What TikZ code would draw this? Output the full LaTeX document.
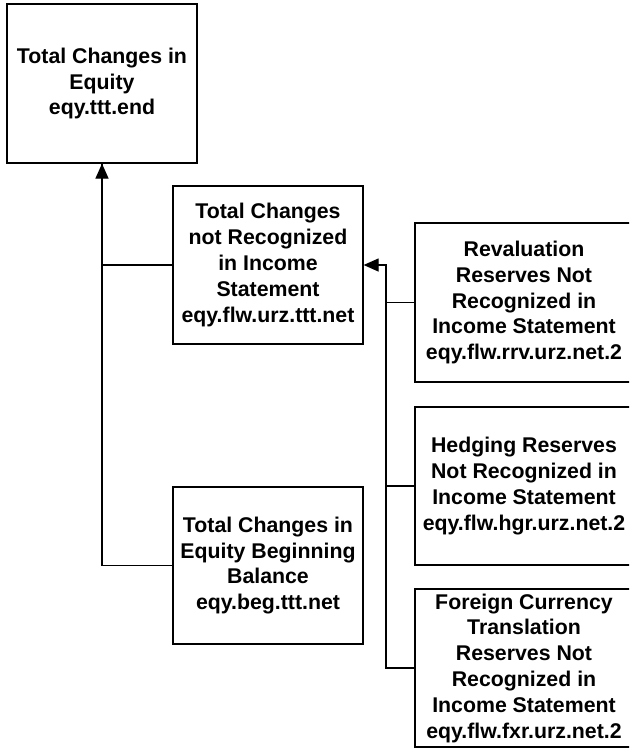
\documentclass[tikz,border=0pt]{standalone}
\usepackage{fontspec}
\setmainfont{Liberation Sans}
\usetikzlibrary{arrows.meta}
\begin{document}
\begin{tikzpicture}[x=1pt,y=-1pt,
  box/.style={draw=black, line width=1.2pt, fill=white, rectangle, inner sep=0pt,
    align=center, font=\bfseries\fontsize{21.3}{25.8}\selectfont},
  leftbox/.style={box, minimum width=190pt},
  rightbox/.style={box, minimum width=218pt},
  link/.style={draw=black, line width=1.2pt},
  arrowlink/.style={link, -{Triangle[length=15pt,width=13pt]}}]
  \useasboundingbox (0,0) rectangle (629,749);
  \clip (0,0) rectangle (629,749);

  % account boxes
  \node[leftbox, minimum height=159pt] (total) at (102,83.5)
    {Total Changes in\\Equity\\eqy.ttt.end};
  \node[leftbox, minimum height=158pt] (notrec) at (268,265)
    {Total Changes\\not Recognized\\in Income\\Statement\\eqy.flw.urz.ttt.net};
  \node[leftbox, minimum height=157pt] (begin) at (268,565.5)
    {Total Changes in\\Equity Beginning\\Balance\\eqy.beg.ttt.net};
  \node[rightbox, minimum height=159pt] (reval) at (524,302.5)
    {Revaluation\\Reserves Not\\Recognized in\\Income Statement\\eqy.flw.rrv.urz.net.2};
  \node[rightbox, minimum height=158pt] (hedge) at (524,486)
    {Hedging Reserves\\Not Recognized in\\Income Statement\\eqy.flw.hgr.urz.net.2};
  \node[rightbox, minimum height=158pt] (fx) at (524,668)
    {Foreign Currency\\Translation\\Reserves Not\\Recognized in\\Income Statement\\eqy.flw.fxr.urz.net.2};

  % collecting lines
  \coordinate (rbus) at (386,265);
  \draw[arrowlink] (notrec.west) -| (total.south);
  \draw[link] (begin.west) -| (total.south);
  \draw[arrowlink] (reval.west) -| (rbus) -- (notrec.east);
  \draw[link] (hedge.west) -| (rbus);
  \draw[link] (fx.west) -| (rbus);
\end{tikzpicture}
\end{document}
